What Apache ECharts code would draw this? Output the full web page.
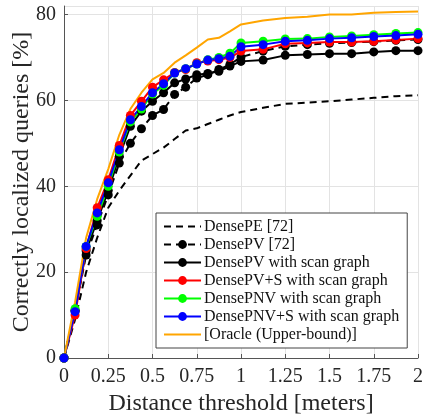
<!DOCTYPE html>
<html lang="en">
  <head>
    <meta charset="UTF-8" />
    <title>localization curves</title>
    <script src="https://cdn.jsdelivr.net/npm/echarts@6/dist/echarts.min.js"></script>
    <style>
      * {
        margin: 0;
        padding: 0;
      }
    </style>
  </head>
  <body>
    <div id="charts" style="width: 425px; height: 417px"></div>
    <script>
      // distance thresholds (meters)
      var dist = [0, 0.0625, 0.125, 0.1875, 0.25, 0.3125, 0.375, 0.4375, 0.5, 0.5625, 0.625, 0.6875, 0.75,
        0.8125, 0.875, 0.9375, 1, 1.125, 1.25, 1.375, 1.5, 1.625, 1.75, 1.875, 2];

      var densePE = [0, 9, 20, 28, 35, 39, 42.5, 46, 47.5, 49, 51, 53, 53.5,
        54.5, 55.5, 56.5, 57.3, 58.3, 59.2, 59.5, 59.8, 60.2, 60.6, 61, 61.2];
      var densePV = [0, 11, 24, 31, 38, 45.4, 50, 53.4, 56.5, 57.9, 61.4, 63.1, 65.2,
        66, 67.2, 68.4, 70.1, 71.5, 72.6, 73, 73.3, 73.5, 73.7, 74, 74.2];
      var densePVScan = [0, 11, 25, 32, 39, 47, 54, 57.5, 59.8, 61.8, 64.1, 65, 66,
        66.3, 66.8, 68, 69.1, 69.4, 70.5, 70.7, 70.9, 70.9, 71.3, 71.6, 71.6];
      var densePVSScan = [0, 10, 25.5, 35, 41.5, 49.5, 56.5, 59.8, 63.1, 64.8, 66.5, 67.2, 68.8,
        69.2, 69.5, 70, 71.5, 71.9, 73.2, 73.4, 73.6, 73.6, 73.8, 74.1, 74.4];
      var densePNVScan = [0, 11.5, 26, 33, 40, 48, 55, 58, 61.5, 63.5, 66.4, 67.4, 68.5,
        69.5, 70, 71, 73.4, 73.8, 74.3, 74.4, 74.8, 75, 75.3, 75.6, 75.8];
      var densePNVSScan = [0, 10.8, 26, 33.8, 40.8, 48.5, 55.5, 58.6, 61.8, 63.9, 66.4, 67.4, 68.5,
        69.4, 69.7, 70.3, 72.5, 73, 73.8, 74, 74.4, 74.6, 74.9, 75.1, 75.4];
      var oracle = [0, 13, 28, 37, 44, 52, 58, 61.8, 64.9, 66.4, 68.8, 70.5, 72.3,
        74.2, 74.6, 76.1, 77.7, 78.6, 79.2, 79.5, 80, 80, 80.4, 80.6, 80.7];

      var yTicks = [0, 20, 40, 60, 80];

      function pairs(ys) {
        return ys.map(function (y, i) {
          return [dist[i], y];
        });
      }

      var font = "Liberation Serif";
      var textColor = "#262626";

      function mkSeries(name, ys, color, dashed, marker) {
        return {
          name: name,
          type: "line",
          data: pairs(ys),
          symbol: marker ? "circle" : "none",
          symbolSize: 9,
          showSymbol: marker,
          itemStyle: { color: color },
          lineStyle: { color: color, width: 2, type: dashed ? [7, 5] : "solid" },
          animation: false,
        };
      }

      var names = [
        "DensePE [72]",
        "DensePV [72]",
        "DensePV with scan graph",
        "DensePV+S with scan graph",
        "DensePNV with scan graph",
        "DensePNV+S with scan graph",
        "[Oracle (Upper-bound)]",
      ];

      var myEcharts = echarts.init(document.getElementById("charts"));
      var options = {
        backgroundColor: "#fff",
        grid: { left: 64, right: 7, top: 6, bottom: 59, outerBoundsMode: "none" },
        legend: {
          orient: "vertical",
          left: 156,
          top: 213,
          itemWidth: 37,
          itemHeight: 11,
          itemGap: 1,
          padding: [5, 8, 5, 7],
          borderColor: "#444",
          borderWidth: 1,
          backgroundColor: "#fff",
          textStyle: { fontFamily: font, fontSize: 16, lineHeight: 17, color: "#111", padding: [0, 0, 0, -2] },
          // no marker in the legend for the two line-only series
          data: names.map(function (n, i) {
            if (i === 0 || i === 6) return { name: n, itemStyle: { opacity: 0 } };
            return { name: n };
          }),
        },
        xAxis: {
          type: "value",
          min: 0,
          max: 2,
          interval: 0.25,
          name: "Distance threshold [meters]",
          nameLocation: "middle",
          nameGap: 34,
          nameMoveOverlap: false,
          nameTextStyle: { fontFamily: font, fontSize: 24, color: textColor },
          axisLine: { show: true, lineStyle: { color: "#555", width: 1 } },
          axisTick: { show: true, inside: true, length: 4, lineStyle: { color: "#555" } },
          axisLabel: { fontFamily: font, fontSize: 20, color: textColor, margin: 9 },
          splitLine: { show: true, lineStyle: { color: "#e3e3e3", width: 1 } },
        },
        yAxis: {
          type: "value",
          min: 0,
          max: 82,
          interval: 20,
          name: "Correctly localized queries [%]",
          nameLocation: "middle",
          nameGap: 30,
          nameMoveOverlap: false,
          nameTextStyle: { fontFamily: font, fontSize: 24, color: textColor },
          axisLine: { show: true, lineStyle: { color: "#555", width: 1 } },
          axisTick: { show: true, inside: true, length: 4, lineStyle: { color: "#555" } },
          axisLabel: {
            fontFamily: font,
            fontSize: 20,
            color: textColor,
            margin: 8,
            showMaxLabel: false,
            formatter: function (v) {
              return yTicks.indexOf(v) >= 0 ? String(v) : "";
            },
          },
          splitLine: { show: true, lineStyle: { color: "#e3e3e3", width: 1 } },
        },
        series: [
          mkSeries(names[0], densePE, "#000", true, false),
          mkSeries(names[1], densePV, "#000", true, true),
          mkSeries(names[2], densePVScan, "#000", false, true),
          mkSeries(names[3], densePVSScan, "#ff0000", false, true),
          mkSeries(names[4], densePNVScan, "#00ff00", false, true),
          mkSeries(names[5], densePNVSScan, "#0000ff", false, true),
          mkSeries(names[6], oracle, "#ffa500", false, false),
        ],
      };
      myEcharts.setOption(options);
    </script>
  </body>
</html>
